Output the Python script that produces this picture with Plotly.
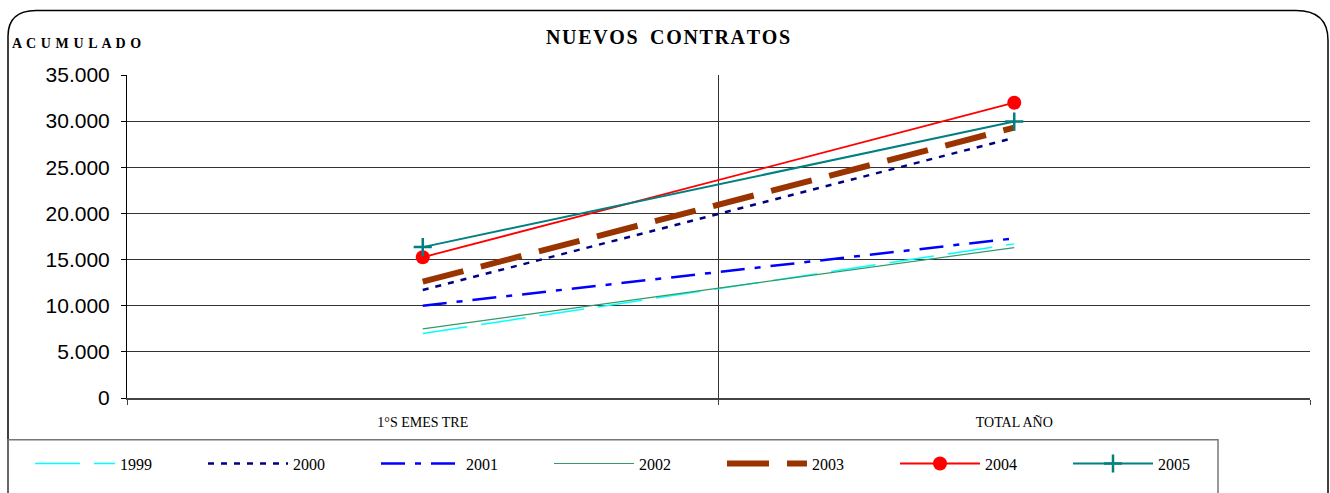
import plotly.graph_objects as go

categories = ["1°S EMES TRE", "TOTAL AÑO"]
series_names = ["1999", "2000", "2001", "2002", "2003", "2004", "2005"]
v1999 = [7000, 16700]
v2000 = [11700, 28200]
v2001 = [10000, 17300]
v2002 = [7500, 16300]
v2003 = [12600, 29300]
v2004 = [15250, 32000]
v2005 = [16350, 29950]
y_ticks = [0, 5000, 10000, 15000, 20000, 25000, 30000, 35000]

W, H = 1330, 493
L, R, T, B = 127, 1310, 75, 400

def px(x):
    return (x - L) / (R - L)

def py(y):
    return (B - y) / (B - T)

styles = {
    "1999": dict(line=dict(color="#00FFFF", width=1.5, dash="45px,14px"), mode="lines"),
    "2000": dict(line=dict(color="#000080", width=2.5, dash="6px,7px"), mode="lines"),
    "2001": dict(line=dict(color="#0000FF", width=2.5, dash="24px,10px,6px,10px"), mode="lines"),
    "2002": dict(line=dict(color="#339966", width=1.2), mode="lines"),
    "2003": dict(line=dict(color="#993300", width=6, dash="42px,18px"), mode="lines"),
    "2004": dict(line=dict(color="#FF0000", width=1.8), mode="lines+markers",
                 marker=dict(symbol="circle", size=14, color="#FF0000")),
    "2005": dict(line=dict(color="#008080", width=2), mode="lines+markers",
                 marker=dict(symbol="cross-thin", size=13, color="#008080",
                             line=dict(color="#008080", width=2.5))),
}
values = [v1999, v2000, v2001, v2002, v2003, v2004, v2005]

fig = go.Figure()
for name, vals in zip(series_names, values):
    fig.add_trace(go.Scatter(x=categories, y=vals, name=name, **styles[name]))

serif = "Liberation Serif, Times New Roman, serif"
sans = "Liberation Sans, Arial, sans-serif"

hair = "\u200a"
title_text = (hair + "\u2009 " + hair).join(hair.join(w) for w in "NUEVOS CONTRATOS".split())
acum_text = " \u200a".join("ACUMULADO")

fig.update_layout(
    width=W, height=H,
    margin=dict(l=L, r=W - R, t=T, b=H - B),
    paper_bgcolor="white", plot_bgcolor="white",
    separators=",.",
    showlegend=True,
    legend=dict(orientation="h", x=px(30), y=py(466), xanchor="left", yanchor="middle",
                font=dict(family=serif, size=16, color="#000"),
                bgcolor="rgba(0,0,0,0)", borderwidth=0,
                entrywidth=78, entrywidthmode="pixels", itemwidth=80,
                traceorder="normal"),
    xaxis=dict(type="category", range=[-0.5, 1.5], tickson="boundaries",
               showgrid=True, gridcolor="#333", gridwidth=1,
               showline=True, linecolor="#444", linewidth=2,
               ticks="outside", ticklen=5, tickcolor="#444",
               tickfont=dict(family=serif, size=14, color="#000"),
               ticklabelstandoff=10, zeroline=False, fixedrange=True),
    yaxis=dict(range=[0, 35000], tickvals=y_ticks, tickformat=",d",
               showgrid=True, gridcolor="#333", gridwidth=1,
               showline=True, linecolor="#000", linewidth=1,
               ticks="outside", ticklen=5, tickcolor="#000",
               tickfont=dict(family=sans, size=21, color="#000"),
               ticklabelstandoff=7, zeroline=False, fixedrange=True),
    annotations=[
        dict(text="<b>" + title_text + "</b>", x=px(668), y=py(37), xref="paper", yref="paper",
             xanchor="center", yanchor="middle", showarrow=False,
             font=dict(family=serif, size=20, color="#000")),
        dict(text="<b>" + acum_text + "</b>", x=px(10), y=py(43), xref="paper", yref="paper",
             xanchor="left", yanchor="middle", showarrow=False,
             font=dict(family=serif, size=14, color="#000")),
    ],
    shapes=[
        dict(type="path", xref="paper", yref="paper", layer="below",
             path=(f"M {px(8)},{py(500)} L {px(8)},{py(36)} "
                   f"Q {px(8)},{py(10)} {px(36)},{py(10)} "
                   f"L {px(1296)},{py(10)} Q {px(1328)},{py(10)} {px(1328)},{py(40)} "
                   f"L {px(1328)},{py(500)}"),
             line=dict(color="#000", width=1.5)),
        dict(type="rect", xref="paper", yref="paper", layer="below",
             x0=px(8), x1=px(1218), y0=py(442), y1=py(520),
             line=dict(color="#777", width=1.5), fillcolor="rgba(0,0,0,0)"),
    ],
)

fig.write_html("out.html", config={"displayModeBar": False},
               post_script="document.body.style.margin='0';document.body.style.overflow='hidden';")
